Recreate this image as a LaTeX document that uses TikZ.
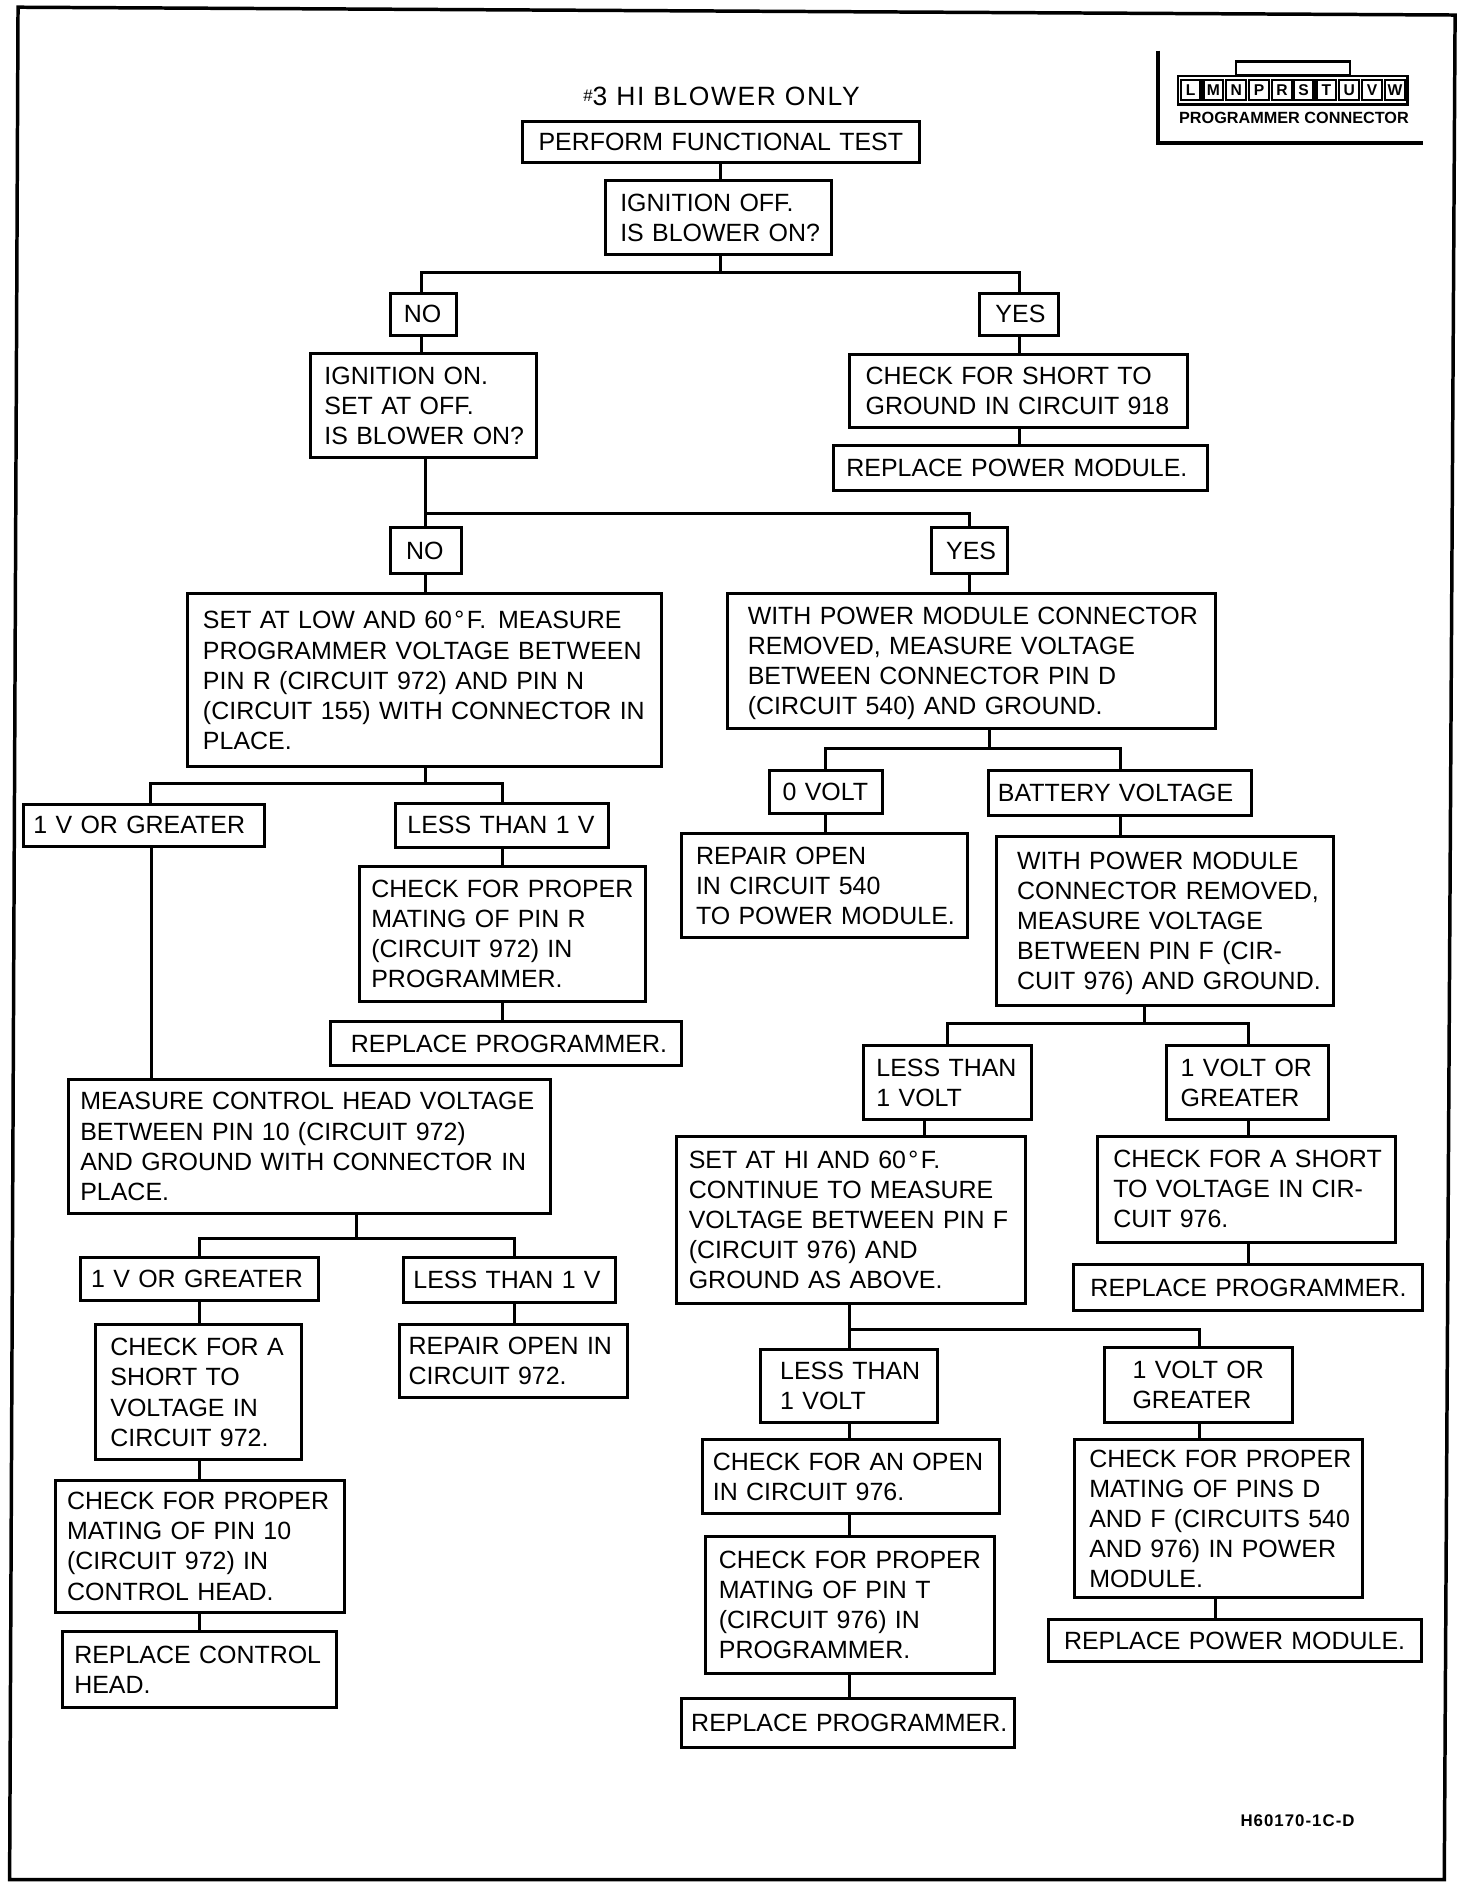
\documentclass[tikz,border=0pt]{standalone}
\usepackage{fontspec}
\setmainfont{Liberation Sans}
\newcommand\mystrut{\rule[-5.3pt]{0pt}{25pt}}
\newcommand\degF{\hspace{2pt}°\hspace{2pt}F.}
\tikzset{
  x=1pt,y=-1pt,
  boxnode/.style={draw=black,line width=2.5pt,fill=white,inner sep=0pt,align=left,
    font=\fontsize{20.75}{25}\selectfont},
  link/.style={draw=black,line width=2.5pt},
  frameline/.style={draw=black,line width=2.9pt},
}
% name, x1, y1, x2, y2, text x, text
\newcommand\bx[7]{%
  \pgfmathsetmacro\cxx{(#2+#4)/2}%
  \pgfmathsetmacro\cyy{(#3+#5)/2}%
  \pgfmathsetmacro\www{#4-#2}%
  \pgfmathsetmacro\hhh{#5-#3}%
  \pgfmathsetmacro\ppp{#6-#2}%
  \node[boxnode,text width=\www pt,minimum height=\hhh pt] (#1) at (\cxx,\cyy)
    {\leftskip=\ppp pt\rightskip=-20pt plus 1fil\mystrut #7\mystrut\par};%
}
\newcommand\vlink[3]{%
  \path (#3,0) coordinate (vx);
  \draw[link] (#1.south -| vx) -- (#2.north -| vx);%
}
\newcommand\pincell[3]{%
  \node[draw=black,line width=1.8pt,fill=white,inner sep=0pt,minimum width=16.5pt,minimum height=17pt,
    font=\fontsize{13}{13}\selectfont\bfseries] (#1) at (#2,75) {#3};%
}
\begin{document}
\begin{tikzpicture}
\useasboundingbox (0,0) rectangle (1224,1570);
\fill[white] (0,0) rectangle (1224,1570);
% page frame
\coordinate (f1) at (15,6);
\coordinate (f2) at (1210,12.5);
\coordinate (f3) at (1201,1563);
\coordinate (f4) at (8,1563);
\draw[frameline,line join=miter] (f1) -- (f2) -- (f3) -- (f4) -- cycle;
% title
\node[font=\fontsize{22}{25}\selectfont\addfontfeatures{LetterSpace=6},inner sep=0pt] (title) at (600,80)
  {\raisebox{3pt}{\fontsize{14}{14}\selectfont\#}3 HI BLOWER ONLY};
% connector icon
\coordinate (i1) at (963,42);
\coordinate (i2) at (963,119);
\coordinate (i3) at (1183,119);
\draw[frameline] (i1) -- (i2) -- (i3);
\node[draw=black,line width=1.8pt,inner sep=0pt,minimum width=95pt,minimum height=11pt,anchor=south] (itab) at (1075,63) {};
\node[draw=black,line width=2pt,fill=white,inner sep=0pt,minimum width=191pt,minimum height=24pt] (ibody) at (1075,75) {};
\pincell{pl}{990}{L}\pincell{pm}{1009}{M}\pincell{pn}{1028}{N}\pincell{pp}{1047}{P}\pincell{pr}{1066}{R}
\pincell{ps}{1084}{S}\pincell{pt}{1103}{T}\pincell{pu}{1122}{U}\pincell{pv}{1141}{V}\pincell{pw}{1160}{W}
\node[font=\fontsize{13.5}{15}\selectfont\bfseries,inner sep=0pt] (iname) at (1076,98) {PROGRAMMER CONNECTOR};
\node[font=\fontsize{14}{14}\selectfont\bfseries\addfontfeatures{LetterSpace=6},inner sep=0pt] (code) at (1079,1514) {H60170-1C-D};
\begin{scope}[shift={(0.8,0.8)}]
% boxes
\bx{perform}{434}{100}{764}{134}{447}{PERFORM FUNCTIONAL TEST}
\bx{ignoff}{503}{149}{691}{211}{515}{IGNITION OFF.\\IS BLOWER ON?}
\bx{noa}{324}{243}{379}{278}{335}{NO}
\bx{yesa}{814}{243}{879}{278}{827}{YES}
\bx{ignon}{257}{293}{445}{380}{269}{IGNITION ON.\\SET AT OFF.\\IS BLOWER ON?}
\bx{short}{706}{294}{987}{355}{719}{CHECK FOR SHORT TO\\GROUND IN CIRCUIT 918}
\bx{pma}{692}{370}{1003}{407}{703}{REPLACE POWER MODULE.}
\bx{nob}{324}{438}{383}{476}{337}{NO}
\bx{yesb}{774}{438}{837}{476}{786}{YES}
\bx{setlow}{155}{493}{549}{637}{168}{SET AT LOW AND 60\degF\hspace{3pt} MEASURE\\PROGRAMMER VOLTAGE BETWEEN\\PIN R (CIRCUIT 972) AND PIN N\\(CIRCUIT 155) WITH CONNECTOR IN\\PLACE.}
\bx{withpm}{604}{493}{1010}{605}{621}{WITH POWER MODULE CONNECTOR\\REMOVED, MEASURE VOLTAGE\\BETWEEN CONNECTOR PIN D\\(CIRCUIT 540) AND GROUND.}
\bx{zerov}{639}{640}{733}{676}{650}{0 VOLT}
\bx{batt}{821}{640}{1040}{677}{829}{BATTERY VOLTAGE}
\bx{onev}{19}{668}{219}{703}{27}{1 V OR GREATER}
\bx{lessv}{328}{667}{505}{704}{338}{LESS THAN 1 V}
\bx{repopen}{566}{692}{804}{779}{578}{REPAIR OPEN\\IN CIRCUIT 540\\TO POWER MODULE.}
\bx{matr}{298}{720}{536}{832}{308}{CHECK FOR PROPER\\MATING OF PIN R\\(CIRCUIT 972) IN\\PROGRAMMER.}
\bx{proga}{274}{849}{566}{885}{291}{REPLACE PROGRAMMER.}
\bx{withpmb}{828}{695}{1108}{835}{845}{WITH POWER MODULE\\CONNECTOR REMOVED,\\MEASURE VOLTAGE\\BETWEEN PIN F (CIR-\\CUIT 976) AND GROUND.}
\bx{lessa}{717}{869}{857}{930}{728}{LESS THAN\\1 VOLT}
\bx{greata}{969}{869}{1104}{930}{981}{1 VOLT OR\\GREATER}
\bx{measure}{56}{897}{457}{1008}{66}{MEASURE CONTROL HEAD VOLTAGE\\BETWEEN PIN 10 (CIRCUIT 972)\\AND GROUND WITH CONNECTOR IN\\PLACE.}
\bx{sethi}{562}{944}{852}{1083}{572}{SET AT HI AND 60\degF\\CONTINUE TO MEASURE\\VOLTAGE BETWEEN PIN F\\(CIRCUIT 976) AND\\GROUND AS ABOVE.}
\bx{shortv}{912}{944}{1160}{1032}{925}{CHECK FOR A SHORT\\TO VOLTAGE IN CIR-\\CUIT 976.}
\bx{progb}{892}{1051}{1182}{1089}{906}{REPLACE PROGRAMMER.}
\bx{onevb}{66}{1045}{264}{1081}{75}{1 V OR GREATER}
\bx{lessvb}{335}{1045}{511}{1082}{343}{LESS THAN 1 V}
\bx{shortb}{79}{1101}{250}{1213}{91}{CHECK FOR A\\SHORT TO\\VOLTAGE IN\\CIRCUIT 972.}
\bx{repnine}{331}{1101}{521}{1161}{339}{REPAIR OPEN IN\\CIRCUIT 972.}
\bx{lessb}{632}{1121}{779}{1182}{648}{LESS THAN\\1 VOLT}
\bx{greatb}{918}{1120}{1074}{1182}{941}{1 VOLT OR\\GREATER}
\bx{openc}{583}{1196}{830}{1258}{592}{CHECK FOR AN OPEN\\IN CIRCUIT 976.}
\bx{matd}{893}{1196}{1132}{1328}{905}{CHECK FOR PROPER\\MATING OF PINS D\\AND F (CIRCUITS 540\\AND 976) IN POWER\\MODULE.}
\bx{matten}{45}{1230}{286}{1340}{55}{CHECK FOR PROPER\\MATING OF PIN 10\\(CIRCUIT 972) IN\\CONTROL HEAD.}
\bx{matt}{586}{1277}{826}{1391}{597}{CHECK FOR PROPER\\MATING OF PIN T\\(CIRCUIT 976) IN\\PROGRAMMER.}
\bx{pmb}{871}{1346}{1181}{1381}{884}{REPLACE POWER MODULE.}
\bx{headc}{51}{1356}{279}{1419}{61}{REPLACE CONTROL\\HEAD.}
\bx{progc}{566}{1412}{843}{1452}{574}{REPLACE PROGRAMMER.}
% buses
\coordinate (ja) at (598,226);
\coordinate (jb) at (353,426);
\coordinate (jc) at (353,651);
\coordinate (jd) at (822,622);
\coordinate (je) at (951,850);
\coordinate (jf) at (296,1029);
\coordinate (jg) at (706,1105);
\coordinate (xa) at (350,226);\coordinate (xb) at (847,226);
\coordinate (xc) at (805,426);
\coordinate (xd) at (124,651);\coordinate (xe) at (417,651);
\coordinate (xf) at (686,622);\coordinate (xg) at (931,622);
\coordinate (xh) at (787,850);\coordinate (xi) at (1037,850);
\coordinate (xj) at (165,1029);\coordinate (xk) at (427,1029);
\coordinate (xl) at (997,1105);
\vlink{perform}{ignoff}{598}
\draw[link] (ignoff.south -| ja) -- (ja);
\draw[link] (noa.north -| xa) -- (xa) -- (xb) -- (yesa.north -| xb);
\vlink{noa}{ignon}{350}
\vlink{yesa}{short}{847}
\vlink{short}{pma}{847}
\draw[link] (ignon.south -| jb) -- (nob.north -| jb);
\draw[link] (jb) -- (xc) -- (yesb.north -| xc);
\vlink{nob}{setlow}{353}
\vlink{yesb}{withpm}{805}
\draw[link] (setlow.south -| jc) -- (jc);
\draw[link] (onev.north -| xd) -- (xd) -- (xe) -- (lessv.north -| xe);
\vlink{onev}{measure}{125}
\vlink{lessv}{matr}{417}
\vlink{matr}{proga}{417}
\draw[link] (withpm.south -| jd) -- (jd);
\draw[link] (zerov.north -| xf) -- (xf) -- (xg) -- (batt.north -| xg);
\vlink{zerov}{repopen}{686}
\vlink{batt}{withpmb}{931}
\draw[link] (withpmb.south -| je) -- (je);
\draw[link] (lessa.north -| xh) -- (xh) -- (xi) -- (greata.north -| xi);
\vlink{lessa}{sethi}{768}
\vlink{greata}{shortv}{1037}
\vlink{shortv}{progb}{1037}
\draw[link] (measure.south -| jf) -- (jf);
\draw[link] (onevb.north -| xj) -- (xj) -- (xk) -- (lessvb.north -| xk);
\vlink{onevb}{shortb}{165}
\vlink{lessvb}{repnine}{427}
\vlink{shortb}{matten}{165}
\vlink{matten}{headc}{165}
\draw[link] (sethi.south -| jg) -- (lessb.north -| jg);
\draw[link] (jg) -- (xl) -- (greatb.north -| xl);
\vlink{lessb}{openc}{706}
\vlink{openc}{matt}{706}
\vlink{matt}{progc}{706}
\vlink{greatb}{matd}{997}
\vlink{matd}{pmb}{1010}
\end{scope}
\end{tikzpicture}
\end{document}
